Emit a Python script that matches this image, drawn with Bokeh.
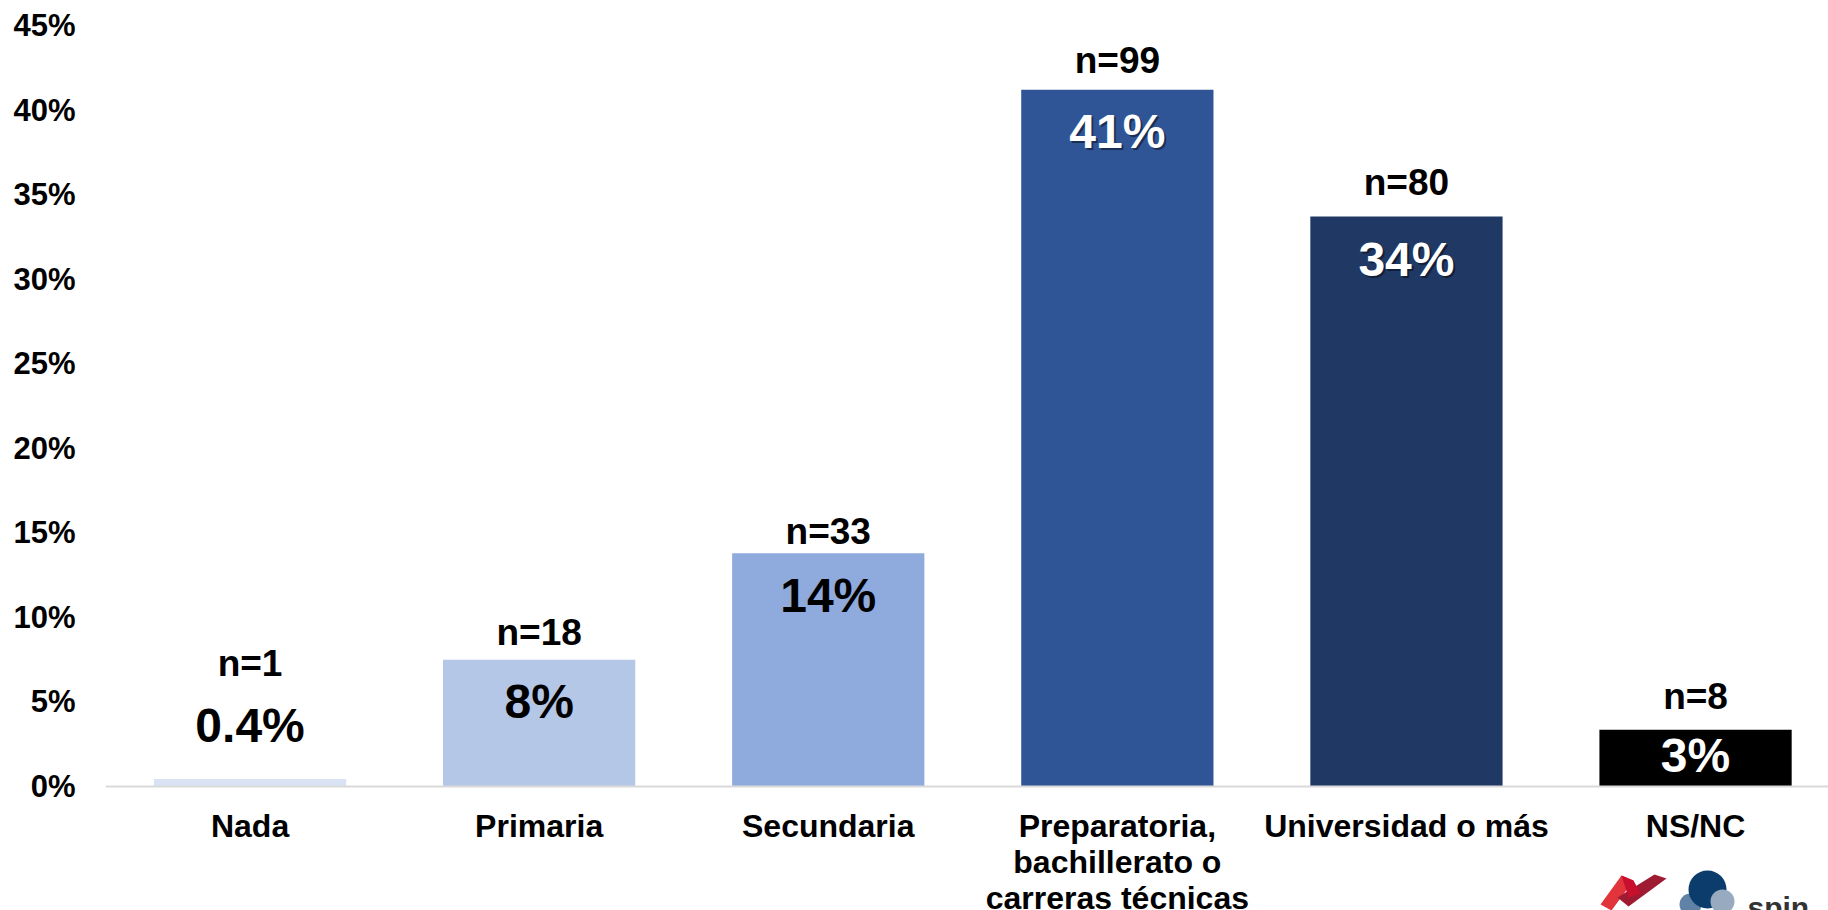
from bokeh.plotting import figure
from bokeh.models import ColumnDataSource, FixedTicker, PrintfTickFormatter, Span, Range1d
from bokeh.core.properties import value
from bokeh.embed import file_html
from bokeh.resources import INLINE

# ---------------- data ----------------
categories = ["Nada", "Primaria", "Secundaria",
              "Preparatoria,\nbachillerato o\ncarreras técnicas",
              "Universidad o más", "NS/NC"]
percent_values = [0.45, 7.5, 13.8, 41.2, 33.7, 3.35]
pct_labels = ["0.4%", "8%", "14%", "41%", "34%", "3%"]
n_labels = ["n=1", "n=18", "n=33", "n=99", "n=80", "n=8"]
y_ticks = [0, 5, 10, 15, 20, 25, 30, 35, 40, 45]

# ---------------- styles ----------------
bar_colors = ["#DAE3F3", "#B4C7E7", "#8FAADC", "#2F5597", "#203864", "#000000"]
pct_text_colors = ["#000000", "#000000", "#000000", "#FFFFFF", "#FFFFFF", "#FFFFFF"]
shadow_alpha = [0, 0, 0, 0.45, 0.45, 0]
pct_offsets = [-53, 42, 42, 42, 43, 26]      # screen px, + = downward
n_offsets = [-115, -27, -22, -29, -34, -33]

FONT = "Liberation Sans"
W, H = 1828, 910
LEFT, TOP = 105, 25
ZERO_PX = 786            # pixel row of 0% inside the figure
PX_PER_CAT = 289.1
BAR_W = 0.665

xs = list(range(len(categories)))
y_end = y_ticks[-1]
px_per_unit = (ZERO_PX - TOP) / y_end
y_start = -(H - ZERO_PX) / px_per_unit
x_start = -0.5
x_end = x_start + (W - LEFT) / PX_PER_CAT


def sx(px):
    return x_start + (px - LEFT) / PX_PER_CAT


def sy(py):
    return (ZERO_PX - py) / px_per_unit


src = ColumnDataSource(dict(
    x=xs, top=percent_values, color=bar_colors, pct=pct_labels, n=n_labels,
    pct_color=pct_text_colors, shadow=shadow_alpha,
    pct_off=pct_offsets, pct_off_sh=[o + 2 for o in pct_offsets],
    n_off=n_offsets, cat=categories, zero=[0] * len(xs),
))

p = figure(width=W, height=H, output_backend="svg", toolbar_location=None,
           x_range=Range1d(x_start, x_end), y_range=Range1d(y_start, y_end),
           x_axis_location=None, min_border_left=LEFT, min_border_top=TOP,
           min_border_right=0, min_border_bottom=0)
p.outline_line_color = None
p.grid.visible = False
p.background_fill_color = "white"
p.border_fill_color = "white"

p.vbar(x="x", top="top", bottom=0, width=BAR_W, color="color", line_color=None, source=src)

p.add_layout(Span(location=0, dimension="width", line_color="#D9D9D9", line_width=2))

# percent labels (shadow then text)
p.text(x="x", y="top", text="pct", source=src, x_offset=2, y_offset="pct_off_sh",
       text_align="center", text_baseline="middle", text_color="#000000",
       text_alpha="shadow", text_font=value(FONT), text_font_style="bold",
       text_font_size="48px")
p.text(x="x", y="top", text="pct", source=src, y_offset="pct_off",
       text_align="center", text_baseline="middle", text_color="pct_color",
       text_font=value(FONT), text_font_style="bold", text_font_size="48px")

# n labels
p.text(x="x", y="top", text="n", source=src, y_offset="n_off",
       text_align="center", text_baseline="middle", text_color="#000000",
       text_font=value(FONT), text_font_style="bold", text_font_size="37px")

# category labels
p.text(x="x", y="zero", text="cat", source=src, y_offset=21,
       text_align="center", text_baseline="top", text_color="#000000",
       text_font=value(FONT), text_font_style="bold", text_font_size="32px",
       text_line_height=1.0)

# ---- decorative logo (bottom right, partly cut off) ----
p.patch([sx(1600), sx(1621), sx(1633), sx(1611)], [sy(904), sy(875), sy(880), sy(910)],
        color="#E2353B", line_color=None)
p.patch([sx(1617), sx(1654), sx(1666), sx(1628)], [sy(897), sy(874), sy(878), sy(906)],
        color="#9E1B32", line_color=None)
p.patch([sx(1621), sx(1633), sx(1640), sx(1628)], [sy(875), sy(880), sy(893), sy(897)],
        color="#C8102E", line_color=None)
p.circle(x=[sx(1690)], y=[sy(904)], radius=11 / PX_PER_CAT, color="#5F82A6", line_color=None)
p.circle(x=[sx(1707)], y=[sy(889)], radius=19 / PX_PER_CAT, color="#0B3C6B", line_color=None)
p.circle(x=[sx(1722)], y=[sy(901)], radius=12 / PX_PER_CAT, color="#97AABF", line_color=None)
p.text(x=[sx(1747)], y=[sy(907)], text=["spin"],
       text_align="left", text_baseline="alphabetic", text_color="#333333",
       text_font=value(FONT), text_font_style="bold", text_font_size="30px")

ax = p.yaxis[0]
ax.ticker = FixedTicker(ticks=y_ticks)
ax.formatter = PrintfTickFormatter(format="%d%%")
ax.axis_line_color = None
ax.major_tick_line_color = None
ax.minor_tick_line_color = None
ax.major_label_standoff = 24
ax.major_label_text_font = FONT
ax.major_label_text_font_style = "bold"
ax.major_label_text_font_size = "31px"
ax.major_label_text_color = "#000000"

open("out.html", "w").write(file_html(p, INLINE))
